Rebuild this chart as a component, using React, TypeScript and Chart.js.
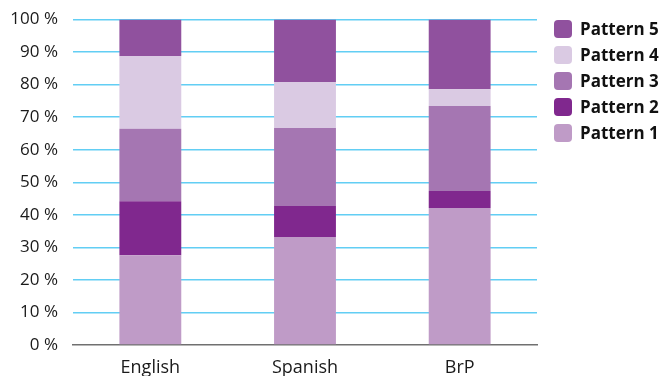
import React, { useEffect, useRef } from "react";
import { Chart, registerables } from "chart.js";

Chart.register(...registerables);

// Share of each pattern per language group (percent, each column sums to 100)
const categories = ["English", "Spanish", "BrP"];
const pattern1 = [27.6, 33.2, 42.1];
const pattern2 = [16.6, 9.5, 5.2];
const pattern3 = [22.2, 24.0, 26.1];
const pattern4 = [22.4, 14.1, 5.2];
const pattern5 = [11.2, 19.2, 21.4];

const seriesNames = ["Pattern 1", "Pattern 2", "Pattern 3", "Pattern 4", "Pattern 5"];
const seriesValues = [pattern1, pattern2, pattern3, pattern4, pattern5];
const seriesColors = ["#BF9BC7", "#80288E", "#A576B2", "#DACAE3", "#90519E"];

const yTicks = [0, 10, 20, 30, 40, 50, 60, 70, 80, 90, 100];

const FONT = "'Open Sans', 'DejaVu Sans', sans-serif";

export default function App() {
  const canvasRef = useRef<HTMLCanvasElement | null>(null);

  useEffect(() => {
    if (!canvasRef.current) return;
    const chart = new Chart(canvasRef.current, {
      type: "bar",
      data: {
        labels: categories,
        datasets: seriesNames.map((name, i) => ({
          label: name,
          data: seriesValues[i],
          backgroundColor: seriesColors[i],
          borderWidth: 0,
          categoryPercentage: 1,
          barPercentage: 0.4,
        })),
      },
      options: {
        animation: false,
        responsive: true,
        maintainAspectRatio: false,
        layout: { padding: { top: 19.5, right: 128, left: 0, bottom: 0 } },
        plugins: {
          legend: { display: false },
          tooltip: { enabled: false },
        },
        scales: {
          x: {
            stacked: true,
            grid: { display: false, drawTicks: false },
            border: { display: true, color: "#707070", width: 1.5 },
            ticks: {
              padding: 12,
              color: "#1a1a1a",
              font: { family: FONT, size: 18 },
            },
            afterFit: (scale: any) => {
              scale.height = 31;
              scale.paddingLeft = 0;
              scale.paddingRight = 0;
              scale.paddingTop = 0;
              scale.paddingBottom = 0;
            },
          },
          y: {
            stacked: true,
            min: 0,
            max: 100,
            afterBuildTicks: (scale: any) => {
              scale.ticks = yTicks.map((v) => ({ value: v }));
            },
            grid: {
              drawTicks: false,
              lineWidth: 1.4,
              color: (ctx: any) =>
                ctx.tick && ctx.tick.value === 0 ? "rgba(0,0,0,0)" : "#62CEF4",
            },
            border: { display: false },
            ticks: {
              padding: 15,
              color: "#1a1a1a",
              font: { family: FONT, size: 17 },
              callback: (v: any) => `${v} %`,
            },
            afterFit: (scale: any) => {
              scale.width = 73;
              scale.paddingTop = 0;
              scale.paddingBottom = 0;
              scale.paddingLeft = 0;
              scale.paddingRight = 0;
            },
          },
        },
      },
    });
    return () => chart.destroy();
  }, []);

  // Legend lists the series top-down from Pattern 5 to Pattern 1
  const legendOrder = [4, 3, 2, 1, 0];

  return (
    <div
      style={{
        position: "fixed",
        left: 0,
        top: 0,
        width: 665,
        height: 376,
        background: "#fff",
        overflow: "hidden",
      }}
    >
      <canvas ref={canvasRef} />
      <div
        style={{
          position: "absolute",
          left: 554,
          top: 15.7,
          fontFamily: FONT,
          fontWeight: 700,
          fontSize: 17,
          color: "#111",
        }}
      >
        {legendOrder.map((i) => (
          <div
            key={seriesNames[i]}
            style={{ display: "flex", alignItems: "center", height: 26.1 }}
          >
            <span
              style={{
                display: "inline-block",
                width: 18,
                height: 18,
                borderRadius: 4,
                background: seriesColors[i],
                marginRight: 8,
              }}
            />
            <span style={{ lineHeight: "18px" }}>{seriesNames[i]}</span>
          </div>
        ))}
      </div>
    </div>
  );
}
